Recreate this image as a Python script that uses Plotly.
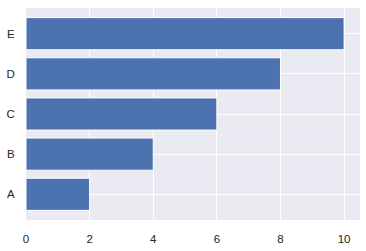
import plotly.graph_objects as go

categories = ["A", "B", "C", "D", "E"]
values = [2, 4, 6, 8, 10]
x_ticks = [0, 2, 4, 6, 8, 10]

fig = go.Figure(go.Bar(
    x=values, y=categories, orientation="h", width=0.8,
    marker=dict(color="#4C72B0", line=dict(color="white", width=1)),
))

fig.update_layout(
    width=366, height=251,
    margin=dict(l=26, r=6, t=8, b=27),
    paper_bgcolor="white", plot_bgcolor="#EAEAF2",
    font=dict(family="Liberation Sans, Arial, sans-serif", size=11.5, color="#262626"),
    showlegend=False,
    bargap=0.2,
)
fig.update_xaxes(range=[0, 10.5], tickvals=x_ticks, showgrid=True, gridcolor="white",
                 gridwidth=1, zeroline=False, showline=False,
                 ticks="outside", ticklen=8, tickcolor="rgba(0,0,0,0)")
fig.update_yaxes(range=[-0.64, 4.64], categoryorder="array", categoryarray=categories,
                 showgrid=True, gridcolor="white", gridwidth=1, zeroline=False,
                 showline=False, ticks="outside", ticklen=8, tickcolor="rgba(0,0,0,0)")

fig.write_html("out.html")
